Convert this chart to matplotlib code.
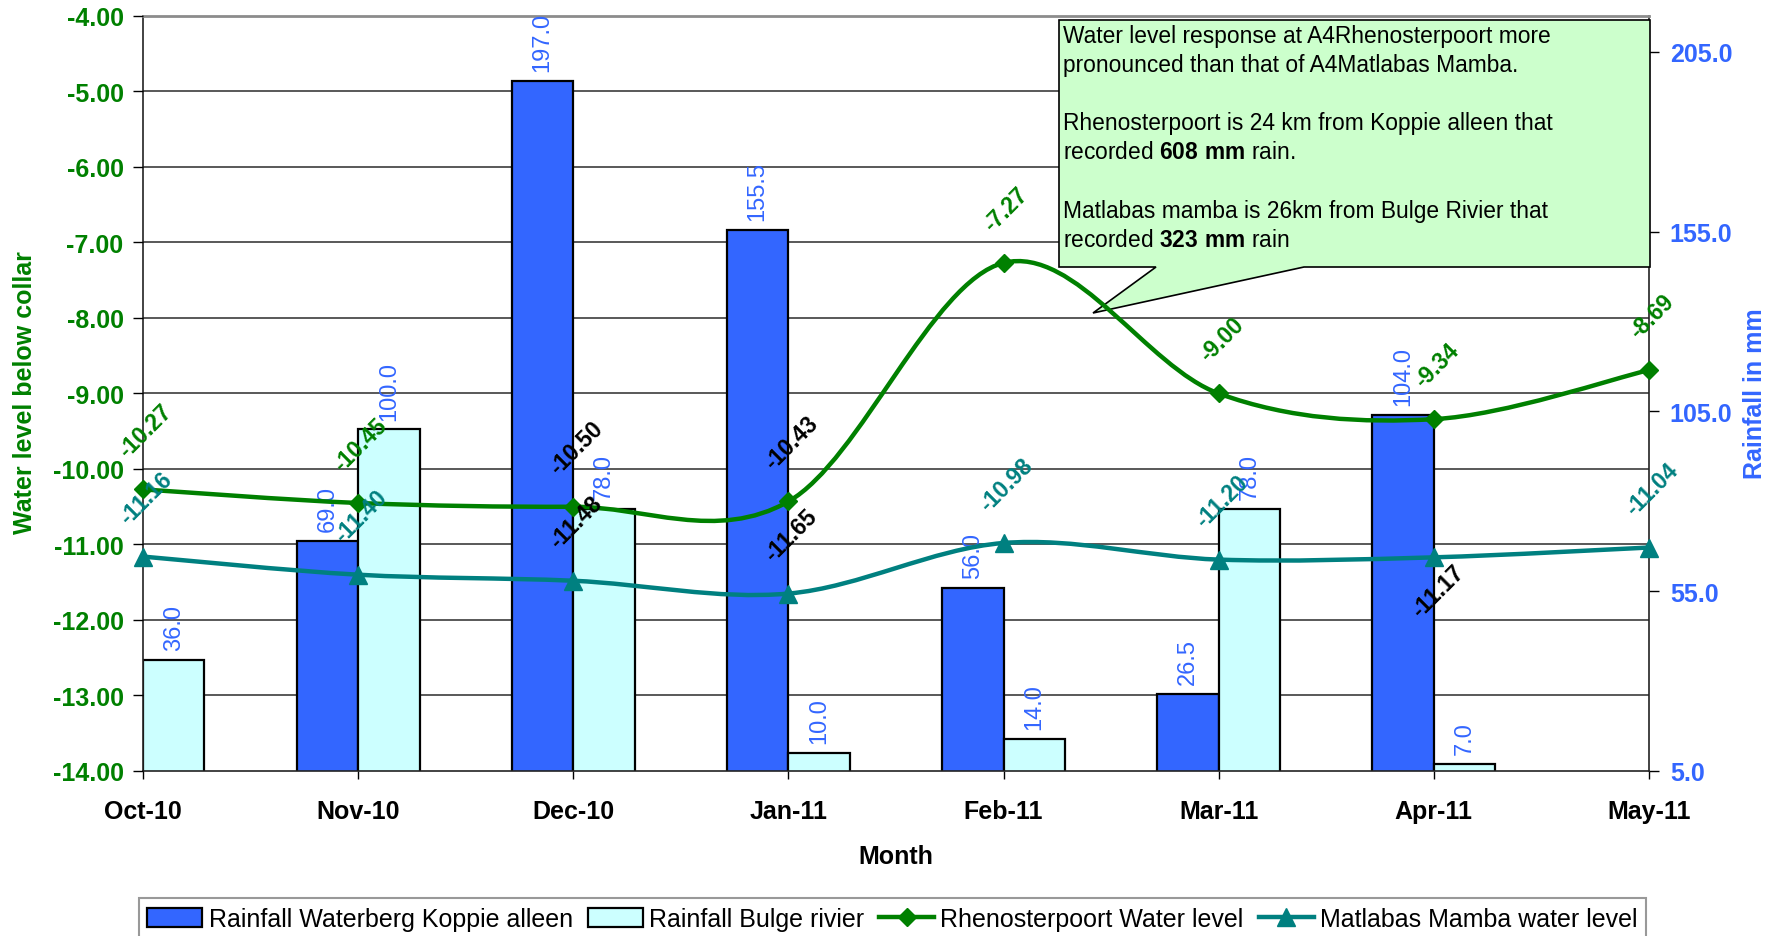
import numpy as np
import matplotlib
matplotlib.use("Agg")
import matplotlib.pyplot as plt
from matplotlib.path import Path
from matplotlib.patches import PathPatch, Polygon, Patch
from matplotlib.lines import Line2D
from matplotlib.transforms import blended_transform_factory

plt.rcParams["font.family"] = ["Liberation Sans", "DejaVu Sans"]
plt.rcParams["mathtext.fontset"] = "custom"
plt.rcParams["mathtext.rm"] = "Liberation Sans"
plt.rcParams["mathtext.bf"] = "Liberation Sans:bold"

# ---- data -------------------------------------------------------------
months = ["Oct-10", "Nov-10", "Dec-10", "Jan-11", "Feb-11", "Mar-11", "Apr-11", "May-11"]
rain_koppie = [np.nan, 69.0, 197.0, 155.5, 56.0, 26.5, 104.0, np.nan]
rain_bulge = [36.0, 100.0, 78.0, 10.0, 14.0, 78.0, 7.0, np.nan]
level_rhenosterpoort = [-10.27, -10.45, -10.50, -10.43, -7.27, -9.00, -9.34, -8.69]
level_matlabas = [-11.16, -11.40, -11.48, -11.65, -10.98, -11.20, -11.17, -11.04]

level_ticks = np.arange(-14, -3, 1)
rain_ticks = [5, 55, 105, 155, 205]

series_names = ["Rainfall Waterberg Koppie alleen", "Rainfall Bulge rivier",
                "Rhenosterpoort Water level", "Matlabas Mamba water level"]

# ---- styles -----------------------------------------------------------
BLUE = "#3366FF"
CYAN = "#CCFFFF"
GREEN = "#008000"
TEAL = "#008080"
rh_label_colors = [GREEN, GREEN, "black", "black", GREEN, GREEN, GREEN, GREEN]
mm_label_colors = [TEAL, TEAL, "black", "black", TEAL, TEAL, "black", TEAL]
mm_label_below = [False, False, False, False, False, False, True, False]


def smooth_path(xs, ys):
    """Cubic Bezier path through the points (Excel-style smoothed line)."""
    pts = np.column_stack([xs, ys]).astype(float)
    n = len(pts)
    verts = [pts[0]]
    codes = [Path.MOVETO]
    for i in range(n - 1):
        p_prev = pts[max(i - 1, 0)]
        p0, p1 = pts[i], pts[i + 1]
        p_next = pts[min(i + 2, n - 1)]
        verts += [p0 + (p1 - p_prev) / 6.0, p1 - (p_next - p0) / 6.0, p1]
        codes += [Path.CURVE4] * 3
    return Path(verts, codes)


W, H = 1783, 937
fig = plt.figure(figsize=(W / 100, H / 100), dpi=100)
L, R, T, B = 143, 1649, 17, 772
ax_bar = fig.add_axes([L / W, 1 - B / H, (R - L) / W, (B - T) / H])
ax_lvl = ax_bar.twinx()

x = np.arange(len(months))
w = 1 / 3.5

# bar axis carries the rainfall scale on the right
ax_bar.yaxis.tick_right()
ax_lvl.yaxis.tick_left()
ax_bar.set_xlim(0, len(months) - 1)
ax_bar.set_ylim(5, 215)
ax_bar.set_yticks(rain_ticks)
ax_bar.set_yticklabels([f"{t:.1f}" for t in rain_ticks], color=BLUE,
                       fontweight="bold", fontsize=18)
ax_bar.set_xticks(x)
ax_bar.set_xticklabels(months, fontweight="bold", fontsize=18)
ax_bar.tick_params(axis="x", direction="out", length=6, pad=14, width=1)
ax_bar.tick_params(axis="y", direction="out", length=7, pad=8, width=1)

ax_lvl.set_ylim(-14, -4)
ax_lvl.set_yticks(level_ticks)
ax_lvl.set_yticklabels([f"{t:.2f}" for t in level_ticks], color=GREEN,
                       fontweight="bold", fontsize=18)
ax_lvl.tick_params(axis="y", direction="out", length=7, pad=7, width=1)
for sp in ax_lvl.spines.values():
    sp.set_visible(False)

for name, sp in ax_bar.spines.items():
    sp.set_color("#222222")
    sp.set_linewidth(1.2)
ax_bar.spines["top"].set_color("#8c8c8c")
ax_bar.spines["top"].set_linewidth(2)

# horizontal gridlines from the water-level scale, behind the bars
grid_tr = blended_transform_factory(ax_bar.transAxes, ax_lvl.transData)
for v in level_ticks[1:-1]:
    ax_bar.add_line(Line2D([0, 1], [v, v], transform=grid_tr, color="#2b2b2b",
                           lw=1.1, zorder=0.5))

# rainfall bars
for vals, offset, col in [(rain_koppie, -w / 2, BLUE), (rain_bulge, w / 2, CYAN)]:
    for xi, v in zip(x, vals):
        if np.isnan(v):
            continue
        ax_bar.bar(xi + offset, v, width=w, color=col, edgecolor="black",
                   linewidth=1.6, zorder=2)
        ax_bar.annotate(f"{v:.1f}", (xi + offset, v), xytext=(0, 7),
                        textcoords="offset points", rotation=90, ha="center",
                        va="bottom", color=BLUE, fontsize=17, zorder=3)

# water level lines
for vals, col, mk, ms in [(level_rhenosterpoort, GREEN, "D", 9),
                          (level_matlabas, TEAL, "^", 13)]:
    ax_lvl.add_patch(PathPatch(smooth_path(x, vals), fill=False, edgecolor=col,
                               lw=3.2, zorder=4, clip_on=False))
    ax_lvl.plot(x, vals, ls="none", marker=mk, ms=ms, color=col, zorder=5,
                clip_on=False)

LABEL_SIZE = 16.5
for xi, v, c in zip(x, level_rhenosterpoort, rh_label_colors):
    ax_lvl.annotate(f"{v:.2f}", (xi, v), xytext=(2, 20), textcoords="offset points",
                    rotation=45, ha="center", va="bottom", color=c,
                    fontweight="bold", fontsize=LABEL_SIZE, zorder=6)
for xi, v, c, below in zip(x, level_matlabas, mm_label_colors, mm_label_below):
    off, va = ((3, -2), "top") if below else ((2, 20), "bottom")
    ax_lvl.annotate(f"{v:.2f}", (xi, v), xytext=off, textcoords="offset points",
                    rotation=45, ha="center", va=va, color=c,
                    fontweight="bold", fontsize=LABEL_SIZE, zorder=6)

# callout box
def fpt(px, py):
    return (px / W, 1 - py / H)

callout = Polygon([fpt(1059, 21), fpt(1650, 21), fpt(1650, 268), fpt(1304, 268),
                   fpt(1093, 314), fpt(1156, 268), fpt(1059, 268)],
                  closed=True, facecolor="#CCFFCC", edgecolor="black", lw=1.2,
                  transform=fig.transFigure, clip_on=False, zorder=1)
ax_lvl.add_patch(callout)
callout_lines = [
    ("Water level response at A4Rhenosterpoort more", 43),
    ("pronounced than that of A4Matlabas Mamba.", 72),
    ("Rhenosterpoort is 24 km from Koppie alleen that", 130),
    (r"recorded $\mathbf{608\ mm}$ rain.", 159),
    ("Matlabas mamba is 26km from Bulge Rivier that", 218),
    (r"recorded $\mathbf{323\ mm}$ rain", 247),
]
for txt, yb in callout_lines:
    ax_lvl.text(*fpt(1063, yb), txt, transform=fig.transFigure, ha="left",
                va="baseline", fontsize=16.4, color="black", zorder=1.5,
                clip_on=False)

# axis titles
fig.text(25 / W, 1 - 393 / H, "Water level below collar", rotation=90,
         ha="center", va="center", color=GREEN, fontweight="bold", fontsize=18)
fig.text(1755 / W, 1 - 394 / H, "Rainfall in mm", rotation=90,
         ha="center", va="center", color=BLUE, fontweight="bold", fontsize=18)
fig.text(896 / W, 1 - 857 / H, "Month", ha="center", va="center",
         fontweight="bold", fontsize=18)

# legend
handles = [
    Patch(facecolor=BLUE, edgecolor="black", linewidth=1.6),
    Patch(facecolor=CYAN, edgecolor="black", linewidth=1.6),
    Line2D([], [], color=GREEN, lw=3.2, marker="D", ms=9),
    Line2D([], [], color=TEAL, lw=3.2, marker="^", ms=13),
]
leg = fig.legend(handles, series_names, loc="upper center",
                 bbox_to_anchor=(892.5 / W, 1 - 899 / H), ncol=4, frameon=True,
                 fancybox=False, fontsize=18, handlelength=2.2, handleheight=0.8,
                 handletextpad=0.25, columnspacing=0.6, borderpad=0.35,
                 borderaxespad=0)
leg.get_frame().set_edgecolor("#808080")
leg.get_frame().set_linewidth(1.5)

fig.savefig("out.png", dpi=100)
